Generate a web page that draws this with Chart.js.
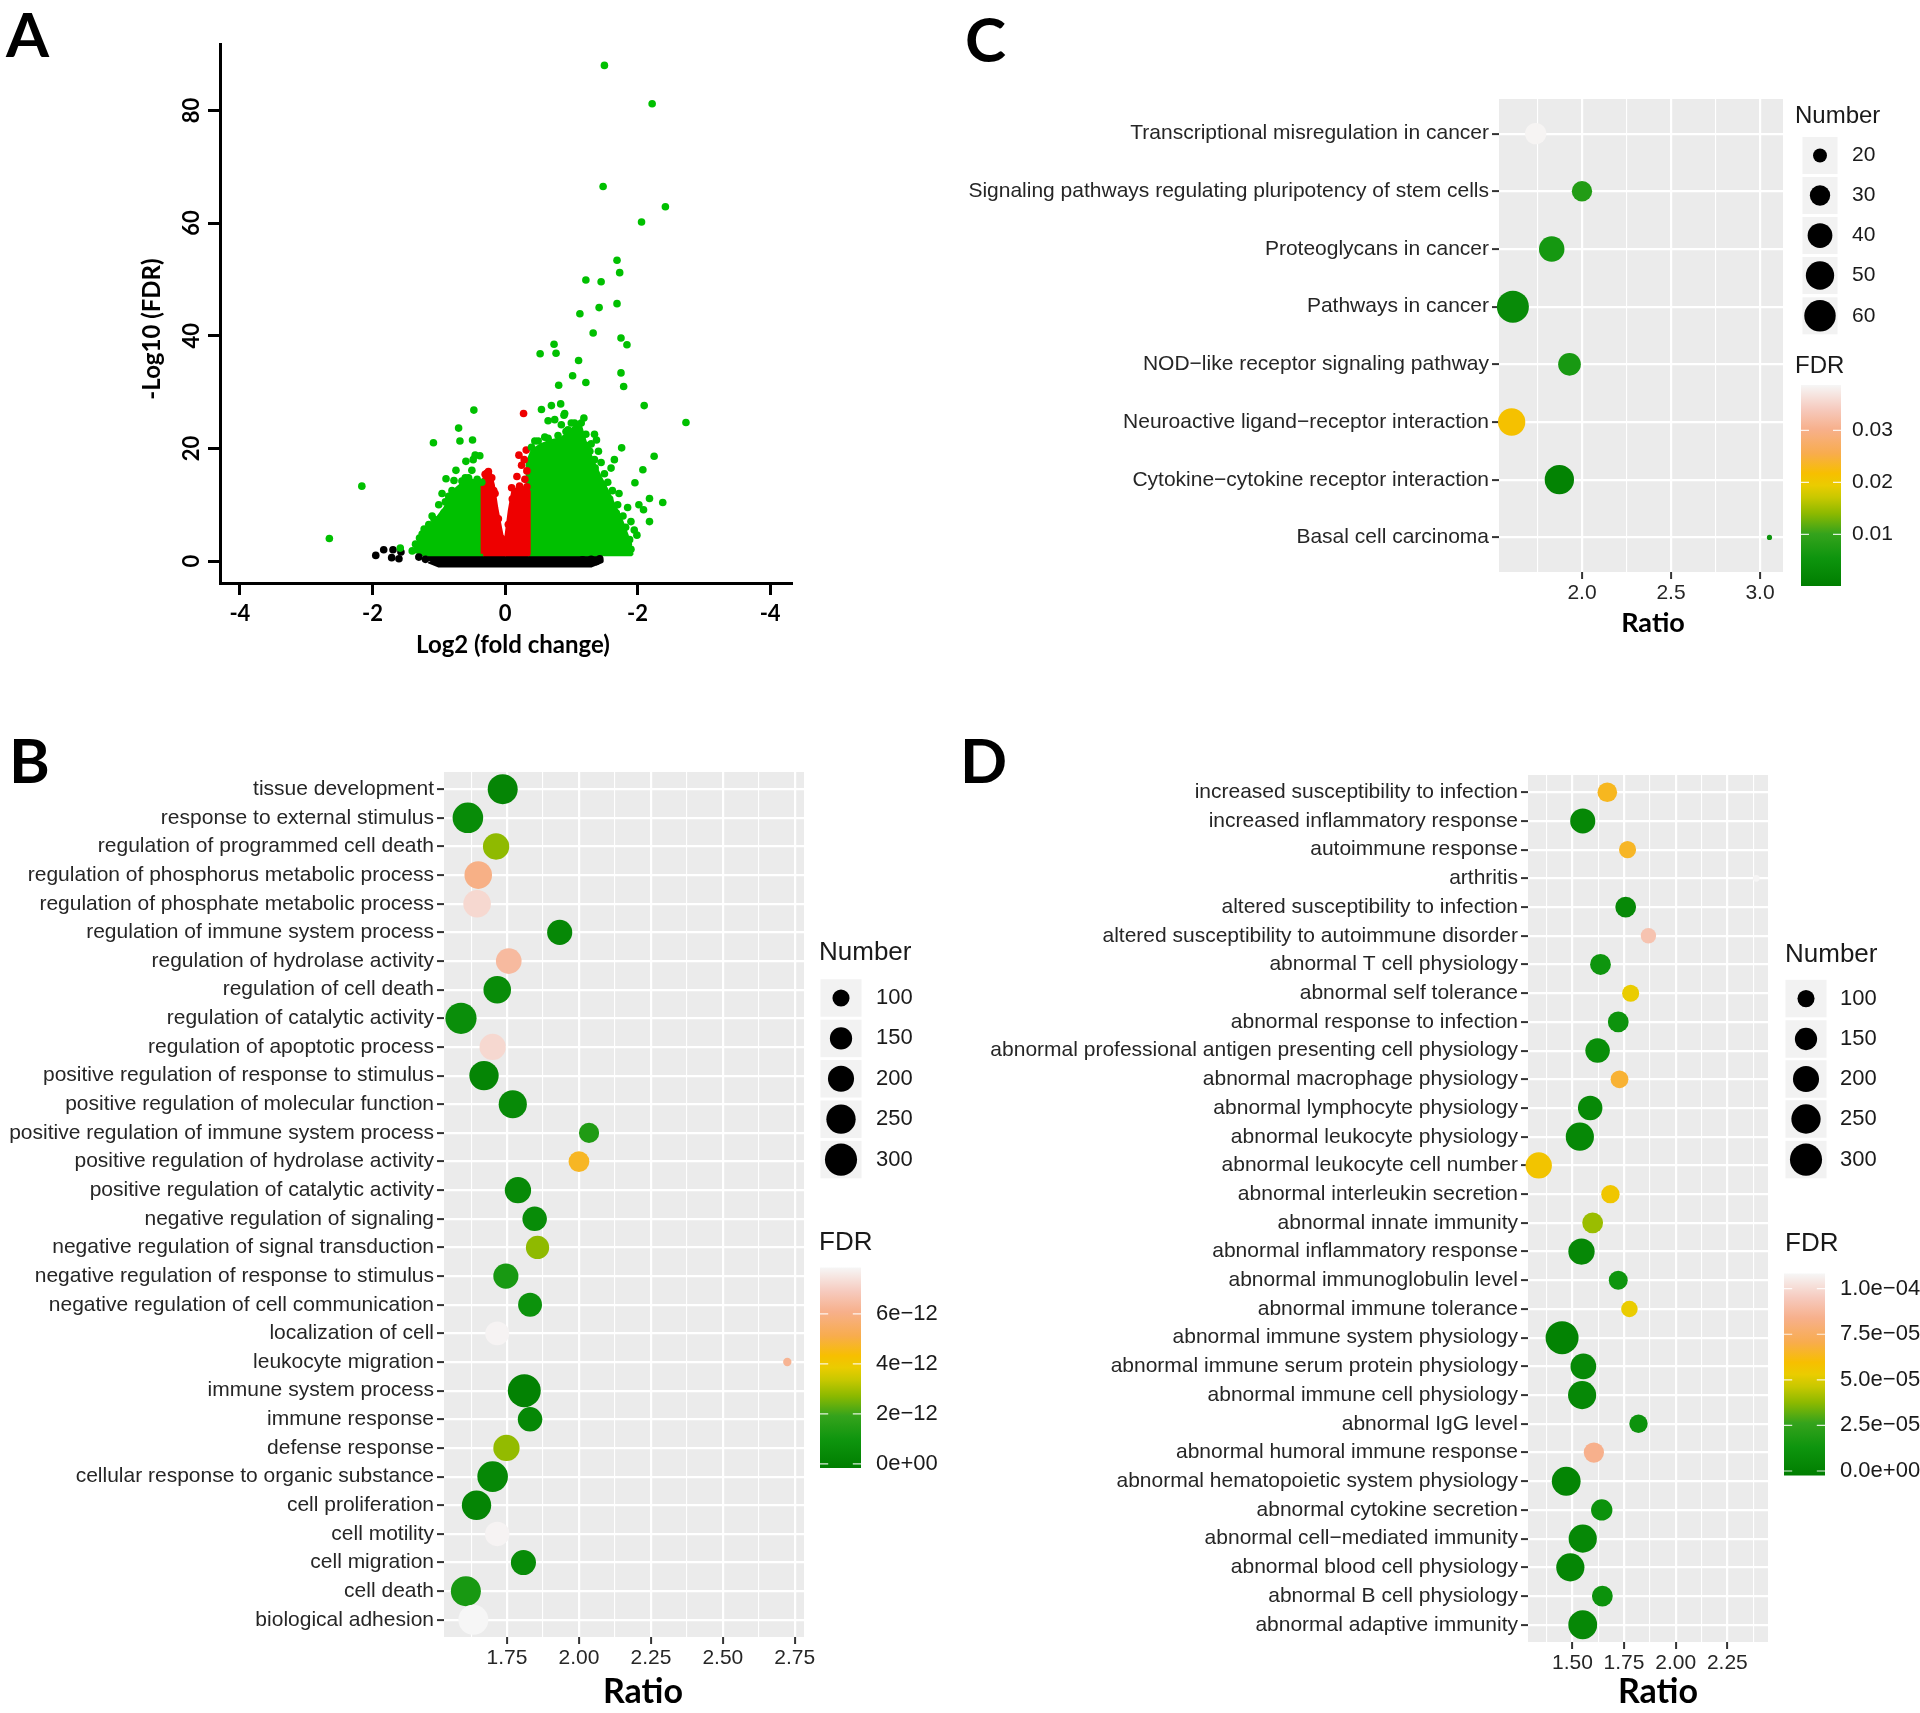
<!DOCTYPE html>
<html>
<head>
<meta charset="utf-8">
<script src="https://cdn.jsdelivr.net/npm/chart.js@4.4.1/dist/chart.umd.min.js"></script>
<style>
  html, body { margin: 0; padding: 0; background: #fff; overflow: hidden; }
  #page { position: relative; width: 1920px; height: 1713px; }
  #page canvas { position: absolute; left: 0; top: 0; }
</style>
</head>
<body>
<div id="page">
  <canvas id="chart-a" width="1920" height="1713"></canvas>
  <canvas id="chart-b" width="1920" height="1713"></canvas>
  <canvas id="chart-c" width="1920" height="1713"></canvas>
  <canvas id="chart-d" width="1920" height="1713"></canvas>
</div>
<script>
// ---------- Panel A: volcano plot, [log2 fold change, -log10 FDR]
const volcanoXTicks = [-4, -2, 0, 2, 4];
const volcanoYTicks = [0, 20, 40, 60, 80];

const greenPoints = [
  [1.50,88.0],[2.22,81.2],[1.48,66.5],[2.42,62.9],[2.06,60.2],[1.69,53.4],[1.73,51.2],[1.22,49.9],[1.45,49.6],
  [1.69,45.7],[1.42,45.0],[1.13,43.9],[1.33,40.5],[1.75,39.6],[1.84,38.4],[0.74,38.5],[0.77,36.9],[0.53,36.8],
  [1.11,35.6],[1.75,33.4],[1.02,32.9],[1.22,31.7],[1.79,31.0],[0.81,31.2],[2.10,27.6],[0.84,27.9],[0.70,27.6],
  [0.55,26.9],[0.89,25.9],[0.65,24.9],[2.73,24.6],[1.19,25.4],[1.35,22.5],[1.76,20.1],[2.25,18.6],[2.08,16.2],
  [1.96,13.9],[2.18,11.1],[2.38,10.4],[2.09,9.1],[2.18,7.0],[1.99,4.6],[1.90,2.1],[0.90,26.2],[0.75,25.1],
  [0.85,24.2],[1.41,19.5],[1.88,3.8],[1.00,24.5],[1.10,23.0],[0.95,23.3],[1.25,20.5],[1.15,22.0],[0.60,22.0],
  [0.45,21.3],[1.35,18.0],[1.50,15.5],[1.62,12.5],[1.70,10.0],[1.78,8.0],[1.82,6.0],[1.60,16.5],[1.45,17.5],
  [1.55,14.0],[1.72,12.0],[1.85,9.5],[1.90,7.0],[1.95,5.5],[2.02,10.0],[1.65,18.0],[1.30,20.8],[1.38,21.5],
  [0.40,20.2],[0.50,21.3],[0.65,21.8],[0.80,22.3],[0.92,23.0],[1.05,24.5],[1.15,24.5],[1.22,22.5],[1.28,19.5],
  [1.36,16.5],[1.48,13.5],[1.58,11.0],[1.68,8.5],[1.78,5.5],[1.86,3.0],
  [-0.47,26.8],[-0.70,23.6],[-1.08,21.0],[-0.68,21.3],[-0.49,21.5],[-0.45,18.8],[-0.38,18.7],[-0.48,18.0],
  [-0.59,17.7],[-0.74,16.1],[-0.50,16.1],[-0.89,14.6],[-0.77,14.3],[-0.60,14.8],[-2.16,13.3],[-2.65,4.0],
  [-1.58,2.3],[-0.92,8.6],[-1.07,7.4],[-1.22,5.7],[-1.29,4.1],[-1.32,2.4],[-1.00,10.0],[-0.85,11.5],
  [-1.15,6.5],[-1.40,1.8],[-0.95,12.0],[-0.55,14.8],[-0.65,14.2],[-0.42,14.5],[-0.80,12.5],[-0.90,10.5],
  [-1.10,8.0],[-1.25,4.8],[-1.35,3.0],[-0.35,14.0]
];
const redPoints = [
  [0.28,26.2],[0.32,19.7],[0.21,18.8],[0.29,18.0],[0.25,17.0],[0.33,16.0],[0.18,15.0],[0.30,14.5],
  [-0.30,15.4],[-0.25,15.9],[-0.20,14.8],[-0.15,12.0],[0.10,13.0],[-0.27,15.6],[-0.17,12.5],[-0.10,7.5],
  [-0.05,4.0],[0.05,6.5],[0.11,11.0],[0.22,13.3],[0.33,13.2]
];
const blackPoints = [
  [-1.95,1.0],[-1.83,2.0],[-1.69,2.0],[-1.71,0.6],[-1.57,1.6],[-1.60,0.4],[-1.30,0.7],[-1.20,0.3],
  [1.17,0.2],[1.30,0.3],[1.43,0.4],[1.38,-0.1]
];
// outlines of the dense point clouds
const greenLeftCloud = [[-1.33,1.3],[-1.28,3.3],[-1.17,5.3],[-1.03,7.3],[-0.90,9.3],[-0.80,11.3],[-0.72,12.8],
  [-0.62,13.8],[-0.50,14.2],[-0.40,13.6],[-0.33,12.8],[-0.33,1.3],[-1.33,1.3]];
const redLeftCloud = [[-0.33,1.3],[-0.33,14.0],[-0.29,15.0],[-0.23,15.4],[-0.19,13.5],[-0.14,9.5],[-0.08,5.8],
  [-0.03,2.8],[0.0,1.3],[-0.33,1.3]];
const redRightCloud = [[0.0,1.3],[0.03,4.5],[0.08,9.0],[0.13,12.3],[0.20,12.8],[0.30,12.8],[0.35,12.3],
  [0.35,1.3],[0.0,1.3]];
const greenRightCloud = [[0.35,1.3],[0.35,17.5],[0.42,19.5],[0.55,20.5],[0.70,21.2],[0.85,21.6],[0.95,22.5],
  [1.05,23.6],[1.13,23.8],[1.20,21.0],[1.30,18.0],[1.42,15.0],[1.55,12.0],[1.65,9.5],[1.75,7.0],[1.83,4.5],
  [1.90,1.3],[0.35,1.3]];
const blackBand = [[-1.15,0.0],[-1.10,1.4],[1.25,1.4],[1.42,0.9],[1.45,0.0],[1.30,-0.7],[-1.00,-0.7],[-1.15,0.0]];

// ---------- Panel B: GO terms
const bTerms = ['tissue development','response to external stimulus','regulation of programmed cell death',
  'regulation of phosphorus metabolic process','regulation of phosphate metabolic process',
  'regulation of immune system process','regulation of hydrolase activity','regulation of cell death',
  'regulation of catalytic activity','regulation of apoptotic process','positive regulation of response to stimulus',
  'positive regulation of molecular function','positive regulation of immune system process',
  'positive regulation of hydrolase activity','positive regulation of catalytic activity',
  'negative regulation of signaling','negative regulation of signal transduction',
  'negative regulation of response to stimulus','negative regulation of cell communication',
  'localization of cell','leukocyte migration','immune system process','immune response','defense response',
  'cellular response to organic substance','cell proliferation','cell motility','cell migration','cell death',
  'biological adhesion'];
const bRatio = [1.735,1.614,1.712,1.65,1.646,1.933,1.756,1.716,1.59,1.70,1.67,1.77,2.035,2.0,1.788,1.846,1.856,
  1.746,1.83,1.716,2.724,1.81,1.83,1.748,1.70,1.644,1.716,1.807,1.607,1.633];
const bNumber = [262,272,203,222,222,186,194,222,283,203,251,232,128,134,203,178,162,186,170,170,61,317,178,203,
  272,251,178,186,262,262];
const bFdr = [0.2e-12,0.5e-12,2.75e-12,6.0e-12,7.2e-12,0.3e-12,6.4e-12,0.5e-12,0.6e-12,7.2e-12,0.2e-12,0.4e-12,
  1.4e-12,4.7e-12,0.4e-12,0.5e-12,2.75e-12,1.2e-12,0.8e-12,7.8e-12,6.2e-12,0.05e-12,0.3e-12,2.8e-12,0.3e-12,
  0.2e-12,7.8e-12,0.5e-12,1.2e-12,7.85e-12];
const bSizeBreaks = [100, 150, 200, 250, 300];
const bFdrTicks = [0, 2e-12, 4e-12, 6e-12];
const bFdrLabels = ['0e+00', '2e\u221212', '4e\u221212', '6e\u221212'];
const bXMajor = [1.75, 2.0, 2.25, 2.5, 2.75];
const bXMinor = [1.625, 1.875, 2.125, 2.375, 2.625];

// ---------- Panel C: KEGG pathways
const cTerms = ['Transcriptional misregulation in cancer','Signaling pathways regulating pluripotency of stem cells',
  'Proteoglycans in cancer','Pathways in cancer','NOD\u2212like receptor signaling pathway',
  'Neuroactive ligand\u2212receptor interaction','Cytokine\u2212cytokine receptor interaction','Basal cell carcinoma'];
const cRatio = [1.74, 2.0, 1.83, 1.612, 1.93, 1.605, 1.873, 3.053];
const cNumber = [32, 30, 42, 62, 35, 47, 53, 15];
const cFdr = [0.0385, 0.0078, 0.0063, 0.0032, 0.0067, 0.0213, 0.0012, 0.0055];
const cSizeBreaks = [20, 30, 40, 50, 60];
const cFdrTicks = [0.01, 0.02, 0.03];
const cFdrLabels = ['0.01', '0.02', '0.03'];
const cXMajor = [2.0, 2.5, 3.0];
const cXMinor = [1.75, 2.25, 2.75];

// ---------- Panel D: phenotypes
const dTerms = ['increased susceptibility to infection','increased inflammatory response','autoimmune response',
  'arthritis','altered susceptibility to infection','altered susceptibility to autoimmune disorder',
  'abnormal T cell physiology','abnormal self tolerance','abnormal response to infection',
  'abnormal professional antigen presenting cell physiology','abnormal macrophage physiology',
  'abnormal lymphocyte physiology','abnormal leukocyte physiology','abnormal leukocyte cell number',
  'abnormal interleukin secretion','abnormal innate immunity','abnormal inflammatory response',
  'abnormal immunoglobulin level','abnormal immune tolerance','abnormal immune system physiology',
  'abnormal immune serum protein physiology','abnormal immune cell physiology','abnormal IgG level',
  'abnormal humoral immune response','abnormal hematopoietic system physiology','abnormal cytokine secretion',
  'abnormal cell\u2212mediated immunity','abnormal blood cell physiology','abnormal B cell physiology',
  'abnormal adaptive immunity'];
const dRatio = [1.669,1.55,1.767,2.39,1.758,1.868,1.636,1.782,1.722,1.622,1.728,1.586,1.536,1.337,1.684,1.598,
  1.544,1.722,1.776,1.45,1.553,1.547,1.82,1.604,1.47,1.642,1.55,1.49,1.645,1.55];
const dNumber = [122,186,100,60,134,88,134,100,134,178,106,178,232,203,111,134,203,116,96,317,194,232,111,128,
  242,140,232,232,134,242];
const dFdr = [6.4e-5,0.4e-5,6.5e-5,10.8e-5,0.5e-5,9.2e-5,1.3e-5,5.3e-5,1.2e-5,0.8e-5,6.7e-5,0.5e-5,0.4e-5,5.7e-5,
  5.6e-5,3.95e-5,0.4e-5,1.3e-5,5.3e-5,0.07e-5,0.5e-5,0.4e-5,1.2e-5,8.4e-5,0.2e-5,1.1e-5,0.4e-5,0.3e-5,1.1e-5,0.4e-5];
const dSizeBreaks = [100, 150, 200, 250, 300];
const dFdrTicks = [0, 2.5e-5, 5e-5, 7.5e-5, 1e-4];
const dFdrLabels = ['0.0e+00', '2.5e\u221205', '5.0e\u221205', '7.5e\u221205', '1.0e\u221204'];
const dXMajor = [1.5, 1.75, 2.0, 2.25];
const dXMinor = [1.375, 1.625, 1.875, 2.125, 2.375];

// ---------- styling
const SANS = '"Liberation Sans", Arial, sans-serif';
const BOLD = 'Lato, "Open Sans", sans-serif';
const GREEN = '#00C000', RED = '#EE0000', BLACK = '#000000';
const fdrStops = [[0,'#007E00'],[0.14,'#0E950E'],[0.26,'#35A31C'],[0.36,'#8CB900'],[0.44,'#C8C800'],
  [0.5,'#EACC00'],[0.56,'#F7BF00'],[0.66,'#F8AC4E'],[0.78,'#F7B08C'],[0.88,'#F6CABE'],[1,'#F6F6F6']];

Chart.defaults.font.family = SANS;

function hexRgb(h) { return [1, 3, 5].map(i => parseInt(h.slice(i, i + 2), 16)); }
function fdrColor(v, lo, hi) {
  const f = Math.min(1, Math.max(0, (v - lo) / (hi - lo)));
  for (let i = 1; i < fdrStops.length; i++) {
    if (f <= fdrStops[i][0]) {
      const [f0, c0] = fdrStops[i - 1], [f1, c1] = fdrStops[i];
      const t = (f - f0) / (f1 - f0), a = hexRgb(c0), b = hexRgb(c1);
      return `rgb(${a.map((x, k) => Math.round(x + (b[k] - x) * t)).join(',')})`;
    }
  }
  return fdrStops[fdrStops.length - 1][1];
}

function txt(ctx, s, x, y, font, o = {}) {
  ctx.save();
  ctx.font = font;
  ctx.fillStyle = o.color || '#000';
  ctx.textAlign = o.align || 'left';
  ctx.textBaseline = o.base || 'middle';
  ctx.translate(x, y);
  if (o.rot) ctx.rotate(o.rot);
  ctx.fillText(s, 0, 0);
  ctx.restore();
}
const xy = arr => arr.map(([x, y]) => ({ x, y }));

// ---------- A
const cloud = (data, color, order) => ({
  type: 'line', data: xy(data), showLine: true, fill: 'shape', tension: 0,
  backgroundColor: color, borderColor: color, borderWidth: 5, borderJoinStyle: 'round',
  pointRadius: 0, order
});
const dots = (data, color, order) => ({
  data: xy(data), backgroundColor: color, pointRadius: 3.8, pointBorderWidth: 0, order
});

new Chart(document.getElementById('chart-a'), {
  type: 'scatter',
  data: {
    datasets: [
      dots(greenPoints, GREEN, 1), dots(redPoints, RED, 2), dots(blackPoints, BLACK, 3),
      cloud(redLeftCloud, RED, 5), cloud(redRightCloud, RED, 5),
      cloud(greenLeftCloud, GREEN, 6), cloud(greenRightCloud, GREEN, 6),
      cloud(blackBand, BLACK, 7)
    ]
  },
  options: {
    responsive: false, animation: false, devicePixelRatio: 1, events: [],
    layout: { autoPadding: false, padding: { left: 0, top: 44, right: 1128, bottom: 1070 } },
    plugins: { legend: { display: false }, tooltip: { enabled: false } },
    scales: {
      x: {
        type: 'linear', min: -4.3, max: 4.33,
        afterBuildTicks: s => { s.ticks = volcanoXTicks.map(v => ({ value: v })); },
        afterFit: s => { s.height = 60; },
        border: { display: true, color: '#000', width: 3 },
        grid: { drawOnChartArea: false, tickLength: 12, tickWidth: 3, tickColor: '#000' },
        ticks: {
          callback: v => v === 0 ? '0' : '-' + Math.abs(v),
          font: { family: BOLD, size: 22, weight: 'bold' }, color: '#000', padding: 6,
          maxRotation: 0, autoSkip: false
        }
      },
      y: {
        type: 'linear', min: -3.9, max: 91.8,
        afterBuildTicks: s => { s.ticks = volcanoYTicks.map(v => ({ value: v })); },
        afterFit: s => { s.width = 220; },
        border: { display: true, color: '#000', width: 3 },
        grid: { drawOnChartArea: false, tickLength: 12, tickWidth: 3, tickColor: '#000' },
        ticks: { display: false }
      }
    }
  },
  plugins: [{
    id: 'volcanoText',
    afterDraw(chart) {
      const { ctx, scales: { y } } = chart;
      volcanoYTicks.forEach(v => txt(ctx, String(v), 192, y.getPixelForValue(v),
        `bold 22px ${BOLD}`, { align: 'center', rot: -Math.PI / 2 }));
      txt(ctx, '-Log10 (FDR)', 152, 329, `bold 24px ${BOLD}`, { align: 'center', rot: -Math.PI / 2 });
      txt(ctx, 'Log2 (fold change)', 513, 645, `bold 24px ${BOLD}`, { align: 'center' });
      txt(ctx, 'A', 6, 57, `bold 62px ${BOLD}`, { base: 'alphabetic' });
    }
  }]
});

// ---------- B, C, D dot plots
const panelBg = {
  id: 'panelBg',
  beforeDraw(chart) {
    const { ctx, chartArea: a } = chart;
    ctx.save();
    ctx.fillStyle = '#EBEBEB';
    ctx.fillRect(a.left, a.top, a.right - a.left, a.bottom - a.top);
    ctx.restore();
  }
};

function drawLegend(ctx, p) {
  const L = p.legend, B = p.bar;
  const tFont = `${L.titleSize}px ${SANS}`, lFont = `${L.labelSize}px ${SANS}`;
  txt(ctx, 'Number', L.x, L.numY, tFont, { color: '#1a1a1a' });
  p.breaks.forEach((b, i) => {
    const cy = L.keyY[i];
    ctx.fillStyle = '#F2F2F2';
    ctx.fillRect(L.keyX - L.keyW / 2, cy - L.keyH / 2, L.keyW, L.keyH);
    ctx.beginPath();
    ctx.arc(L.keyX, cy, p.size(b), 0, Math.PI * 2);
    ctx.fillStyle = '#000';
    ctx.fill();
    txt(ctx, String(b), L.labelX, cy, lFont, { color: '#1a1a1a' });
  });
  txt(ctx, 'FDR', L.x, L.fdrY, tFont, { color: '#1a1a1a' });
  const g = ctx.createLinearGradient(0, B.bottom, 0, B.top);
  fdrStops.forEach(([f, c]) => g.addColorStop(f, c));
  ctx.fillStyle = g;
  ctx.fillRect(B.x, B.top, B.w, B.bottom - B.top);
  p.fdrTicks.forEach((v, i) => {
    const yy = B.bottom - (v - B.lo) / (B.hi - B.lo) * (B.bottom - B.top);
    ctx.strokeStyle = 'rgba(255,255,255,0.85)';
    ctx.lineWidth = 1.2;
    ctx.beginPath();
    ctx.moveTo(B.x, yy); ctx.lineTo(B.x + B.w * 0.2, yy);
    ctx.moveTo(B.x + B.w * 0.8, yy); ctx.lineTo(B.x + B.w, yy);
    ctx.stroke();
    txt(ctx, p.fdrLabels[i], L.labelX, yy, lFont, { color: '#1a1a1a' });
  });
}

function dotPlot(id, p) {
  const n = p.terms.length;
  const allX = p.major.concat(p.minor).sort((a, b) => a - b);
  const isMajor = v => p.major.some(m => Math.abs(m - v) < 1e-6);
  return new Chart(document.getElementById(id), {
    type: 'scatter',
    data: {
      datasets: [{
        data: p.ratio.map((r, i) => ({ x: r, y: i + 1 })),
        pointRadius: c => p.size(p.number[c.dataIndex]),
        pointBackgroundColor: c => fdrColor(p.fdr[c.dataIndex], p.bar.lo, p.bar.hi),
        pointBorderWidth: 0,
        clip: false
      }]
    },
    options: {
      responsive: false, animation: false, devicePixelRatio: 1, events: [],
      layout: {
        autoPadding: false,
        padding: { left: 0, top: p.area.top, right: 1920 - p.area.right, bottom: 1713 - p.area.bottom - 40 }
      },
      plugins: { legend: { display: false }, tooltip: { enabled: false } },
      scales: {
        x: {
          type: 'linear', min: p.xMin, max: p.xMax,
          afterBuildTicks: s => { s.ticks = allX.map(v => ({ value: v })); },
          afterFit: s => { s.height = 40; },
          border: { display: false },
          grid: {
            color: '#fff',
            lineWidth: c => (c.tick && isMajor(c.tick.value)) ? 2.2 : 1.1,
            tickLength: 7, tickWidth: 2,
            tickColor: c => (c.tick && isMajor(c.tick.value)) ? '#333' : 'rgba(0,0,0,0)'
          },
          ticks: {
            callback: v => isMajor(v) ? v.toFixed(p.decimals) : '',
            font: { family: SANS, size: 21 }, color: '#262626', padding: 2, maxRotation: 0, autoSkip: false
          }
        },
        y: {
          type: 'linear', min: 0.4, max: n + 0.6, reverse: true,
          afterBuildTicks: s => { s.ticks = p.terms.map((t, i) => ({ value: i + 1 })); },
          afterFit: s => { s.width = p.area.left; },
          border: { display: false },
          grid: { color: '#fff', lineWidth: 2.2, tickLength: 7, tickWidth: 2, tickColor: '#333' },
          ticks: {
            callback: v => p.terms[Math.round(v) - 1],
            font: { family: SANS, size: 21 }, color: '#262626', padding: 3, autoSkip: false
          }
        }
      }
    },
    plugins: [panelBg, {
      id: 'extras',
      afterDraw(chart) {
        const ctx = chart.ctx;
        drawLegend(ctx, p);
        txt(ctx, 'Ratio', p.title.x, p.title.y, `bold ${p.title.size}px ${BOLD}`, { align: 'center' });
        txt(ctx, p.letter.t, p.letter.x, p.letter.y, `bold 62px ${BOLD}`, { base: 'alphabetic' });
      }
    }]
  });
}

const sizeBD = n => (6.7 + 1.64 * Math.sqrt(Math.max(0, n - 60))) / 2;
const sizeC = n => (5.2 + 3.91 * Math.sqrt(Math.max(0, n - 15))) / 2;

dotPlot('chart-b', {
  terms: bTerms, ratio: bRatio, number: bNumber, fdr: bFdr, size: sizeBD,
  major: bXMajor, minor: bXMinor, decimals: 2, xMin: 1.531, xMax: 2.782,
  area: { left: 444, right: 804, top: 772, bottom: 1637 },
  breaks: bSizeBreaks, fdrTicks: bFdrTicks, fdrLabels: bFdrLabels,
  bar: { x: 820, w: 41, top: 1267.5, bottom: 1468, lo: -0.164e-12, hi: 7.856e-12 },
  legend: { x: 819, numY: 953, titleSize: 26, keyX: 841, keyY: [998, 1038.4, 1078.8, 1119.2, 1159.6],
    keyW: 41, keyH: 37.5, labelX: 876, labelSize: 22, fdrY: 1243 },
  title: { x: 643, y: 1692, size: 34 },
  letter: { t: 'B', x: 9, y: 783 }
});

dotPlot('chart-c', {
  terms: cTerms, ratio: cRatio, number: cNumber, fdr: cFdr, size: sizeC,
  major: cXMajor, minor: cXMinor, decimals: 1, xMin: 1.534, xMax: 3.129,
  area: { left: 1499, right: 1783, top: 99, bottom: 572 },
  breaks: cSizeBreaks, fdrTicks: cFdrTicks, fdrLabels: cFdrLabels,
  bar: { x: 1801, w: 40, top: 385, bottom: 586, lo: 0.000058, hi: 0.03871 },
  legend: { x: 1795, numY: 116, titleSize: 24, keyX: 1820, keyY: [155.5, 195.5, 235.5, 275.5, 315.8],
    keyW: 35, keyH: 37, labelX: 1852, labelSize: 21, fdrY: 366 },
  title: { x: 1653, y: 623, size: 27 },
  letter: { t: 'C', x: 965, y: 62 }
});

dotPlot('chart-d', {
  terms: dTerms, ratio: dRatio, number: dNumber, fdr: dFdr, size: sizeBD,
  major: dXMajor, minor: dXMinor, decimals: 2, xMin: 1.285, xMax: 2.447,
  area: { left: 1528, right: 1768, top: 775, bottom: 1642 },
  breaks: dSizeBreaks, fdrTicks: dFdrTicks, fdrLabels: dFdrLabels,
  bar: { x: 1784, w: 41, top: 1273.5, bottom: 1475.5, lo: -0.247e-5, hi: 10.83e-5 },
  legend: { x: 1785, numY: 955, titleSize: 26, keyX: 1806, keyY: [998.6, 1039, 1079, 1119, 1159.6],
    keyW: 41, keyH: 37.5, labelX: 1840, labelSize: 22, fdrY: 1244 },
  title: { x: 1658, y: 1692, size: 34 },
  letter: { t: 'D', x: 960, y: 783 }
});
</script>
</body>
</html>
